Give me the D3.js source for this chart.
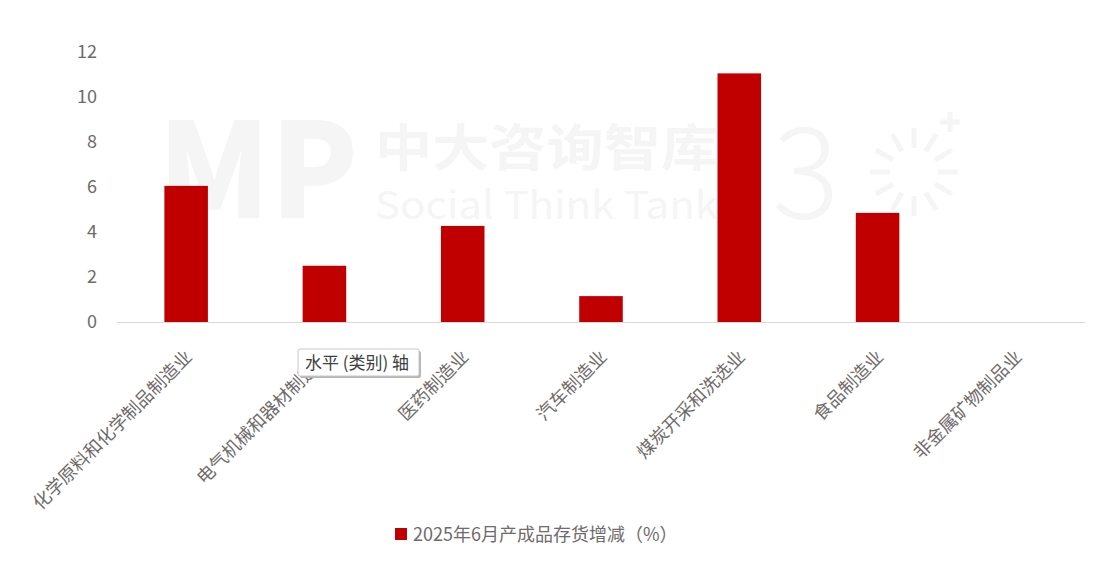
<!DOCTYPE html>
<html><head><meta charset="utf-8">
<script src="https://cdn.jsdelivr.net/npm/d3@7/dist/d3.min.js"></script>
<style>body{margin:0;background:#fff}svg{display:block}text{font-family:"Noto Sans CJK SC","Noto Sans",sans-serif}</style>
</head><body>
<svg id="c" width="1103" height="562"></svg>
<script>
const categories = ["化学原料和化学制品制造业","电气机械和器材制造业","医药制造业","汽车制造业","煤炭开采和洗选业","食品制造业","非金属矿物制品业"];
const values = [6.05, 2.5, 4.27, 1.15, 11.05, 4.85, 0];
const yTicks = [0, 2, 4, 6, 8, 10, 12];
const seriesName = "2025年6月产成品存货增减（%）";

const svg = d3.select("#c");
const m = {l:117, r:1085, t:52, b:322};
const x = d3.scaleBand().domain(categories).range([m.l, m.r]).paddingInner(0.685).paddingOuter(0.3425);
const y = d3.scaleLinear().domain([0, 12]).range([m.b, m.t]);
const textCol = "#6f6b6b";

// watermark (faint)
const wmCol = "#f5f5f5";
const wm = svg.append("g").attr("fill", wmCol);
wm.append("text").attr("x", 158).attr("y", 218).attr("font-size", 132).attr("font-weight", 900)
  .attr("font-family","DejaVu Sans").attr("textLength", 200).attr("lengthAdjust","spacingAndGlyphs").text("MP");
wm.append("text").attr("x", 375).attr("y", 166).attr("font-size", 50).attr("font-weight", 700)
  .attr("textLength", 343).attr("lengthAdjust","spacingAndGlyphs").text("中大咨询智库");
wm.append("text").attr("x", 375).attr("y", 219).attr("font-size", 38).attr("font-family", "Lato")
  .attr("textLength", 343).attr("lengthAdjust","spacingAndGlyphs").text("Social Think Tank");
wm.append("text").attr("x", 772).attr("y", 218).attr("font-size", 126).attr("font-weight", 300).text("3");
const sun = svg.append("g").attr("stroke", wmCol).attr("stroke-width", 5).attr("fill", "none");
d3.range(12).forEach(i => {
  const a = i / 12 * 2 * Math.PI;
  sun.append("line")
    .attr("x1", 914 + 24 * Math.cos(a)).attr("y1", 172 + 24 * Math.sin(a))
    .attr("x2", 914 + 44 * Math.cos(a)).attr("y2", 172 + 44 * Math.sin(a));
});
sun.append("path").attr("d", "M950,112V132M940,122H960");

// bars
svg.append("g").selectAll("rect").data(categories).join("rect")
  .attr("x", d => x(d)).attr("width", x.bandwidth())
  .attr("y", (d,i) => y(Math.max(0, values[i])))
  .attr("height", (d,i) => Math.abs(y(values[i]) - y(0)))
  .attr("fill", "#C00000");

// y axis
const ya = svg.append("g").attr("transform", `translate(${m.l},0)`)
  .call(d3.axisLeft(y).tickValues(yTicks).tickSize(0).tickPadding(20));
ya.select(".domain").remove();
ya.selectAll("text").attr("font-size", 18).attr("fill", textCol).attr("font-family","Noto Sans CJK SC");

// x axis
const xa = svg.append("g").attr("transform", `translate(0,${m.b})`)
  .call(d3.axisBottom(x).tickSize(0).tickPadding(0));
xa.select(".domain").attr("stroke", "#d9d9d9").attr("d", `M${m.l},0.5H${m.r}`);
xa.selectAll("text")
  .attr("font-size", 18).attr("fill", textCol)
  .attr("text-anchor", "end").attr("dy", 0).attr("y", 0)
  .attr("transform", "translate(7,36) rotate(-45)");

// legend
const lg = svg.append("g");
lg.append("rect").attr("x", 395).attr("y", 528).attr("width", 12).attr("height", 12).attr("fill", "#C00000");
lg.append("text").attr("x", 413).attr("y", 541).attr("font-size", 18).attr("fill", textCol).text(seriesName);

// tooltip
const tt = svg.append("g");
tt.append("rect").attr("x", 300).attr("y", 351).attr("width", 121).attr("height", 27).attr("fill", "#b5b5b5").attr("rx", 2);
tt.append("rect").attr("x", 298).attr("y", 349).attr("width", 121).attr("height", 27).attr("fill", "#fff").attr("stroke", "#c8c8c8").attr("rx", 2);
tt.append("text").attr("x", 305).attr("y", 369).attr("font-size", 17).attr("fill", "#404040").text("水平 (类别) 轴");
</script>
</body></html>
